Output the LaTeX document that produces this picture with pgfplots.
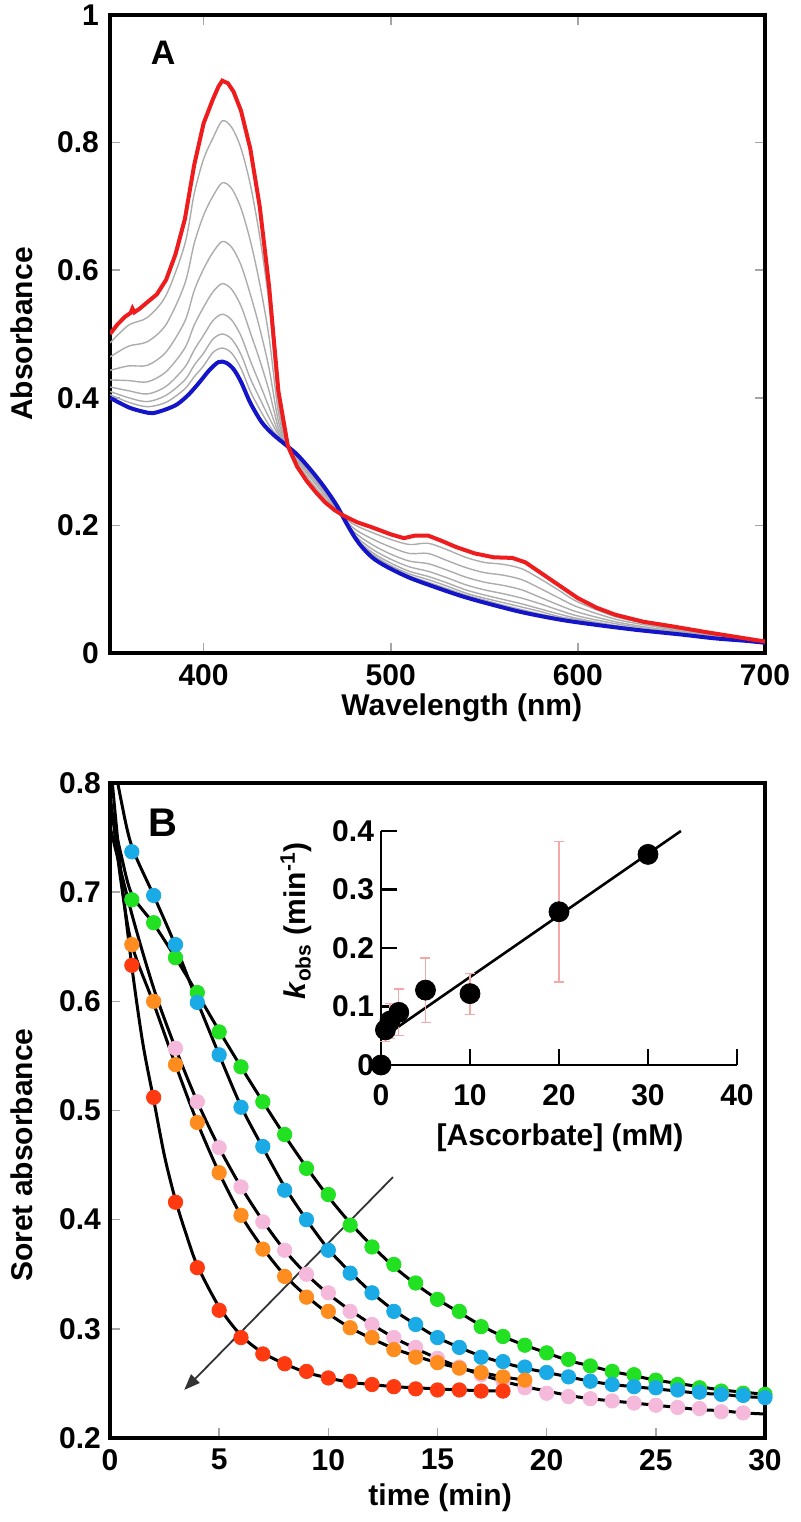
\documentclass[border=0pt]{standalone}
\usepackage{fontspec}
\setmainfont{Liberation Sans}
\usepackage{pgfplots}
\pgfplotsset{compat=1.18}
\usepackage{pgfplotstable}
\usetikzlibrary{arrows.meta}

\definecolor{cred}{HTML}{EE1C1C}
\definecolor{cblue}{HTML}{1414C8}
\definecolor{pgreen}{HTML}{22E022}
\definecolor{pcyan}{HTML}{1AAAE6}
\definecolor{ppink}{HTML}{F5BADB}
\definecolor{porange}{HTML}{FF8C1E}
\definecolor{pred}{HTML}{FF3A10}
\definecolor{errpink}{HTML}{F4A8A8}

\newcommand{\lf}{\fontsize{15}{18}\selectfont\bfseries}

\pgfplotstableread{
wl g1 g2 g3 g4 g5 g6 g7
350 .486 .464 .443 .428 .417 .410 .405
360 .514 .481 .450 .427 .411 .400 .393
370 .526 .488 .451 .425 .406 .394 .386
380 .561 .515 .472 .441 .418 .404 .393
390 .641 .579 .520 .478 .448 .428 .414
395 .720 .642 .568 .514 .475 .451 .433
400 .774 .686 .602 .542 .498 .470 .450
405 .807 .716 .628 .566 .521 .492 .471
410 .834 .737 .645 .579 .531 .500 .478
415 .824 .728 .636 .570 .522 .492 .470
420 .791 .697 .608 .544 .497 .468 .446
425 .734 .646 .562 .502 .458 .430 .410
430 .653 .579 .509 .459 .422 .399 .382
435 .547 .495 .446 .411 .385 .369 .357
440 .391 .377 .363 .353 .346 .342 .338
445 .321 .322 .323 .324 .324 .325 .325
450 .293 .297 .301 .304 .307 .308 .309
460 .254 .259 .264 .268 .271 .273 .274
470 .224 .227 .229 .231 .233 .234 .234
480 .202 .196 .191 .187 .184 .183 .181
490 .189 .179 .170 .163 .158 .155 .152
500 .178 .166 .155 .147 .141 .137 .135
510 .170 .156 .144 .135 .128 .124 .121
520 .172 .156 .140 .128 .120 .115 .111
530 .162 .145 .130 .118 .110 .105 .101
540 .150 .134 .119 .107 .099 .094 .091
550 .142 .126 .111 .099 .091 .086 .083
560 .139 .122 .106 .093 .084 .079 .075
570 .132 .115 .099 .086 .077 .072 .068
580 .116 .101 .087 .077 .069 .065 .061
590 .098 .086 .075 .067 .061 .057 .055
600 .080 .072 .064 .058 .054 .052 .050
620 .057 .053 .049 .046 .043 .042 .041
640 .044 .042 .039 .037 .036 .035 .035
660 .034 .032 .031 .030 .029 .029 .028
680 .025 .025 .024 .023 .023 .022 .022
700 .018 .017 .017 .017 .016 .016 .016
}\grays

\pgfplotstableread{
wl a
350 .500
354 .515
358 .527
361 .533
362 .540
363 .534
366 .540
370 .550
375 .562
380 .585
385 .625
390 .680
395 .765
400 .830
405 .868
408 .888
410 .897
413 .893
416 .880
420 .850
425 .790
430 .700
435 .575
440 .410
445 .325
450 .292
455 .270
460 .252
465 .236
470 .224
475 .215
482 .205
490 .197
500 .186
507 .180
513 .184
520 .184
527 .176
535 .166
545 .156
555 .150
565 .149
572 .142
580 .126
590 .106
600 .086
610 .071
620 .060
635 .049
650 .042
670 .032
685 .025
700 .018
}\redspec

\pgfplotstableread{
wl a
350 .400
360 .385
368 .378
373 .376
380 .382
386 .390
392 .405
398 .425
403 .443
408 .456
412 .455
416 .445
420 .425
425 .392
431 .362
437 .343
444 .326
450 .311
457 .288
464 .262
471 .232
477 .200
483 .172
490 .150
498 .135
510 .118
523 .104
537 .090
550 .079
570 .064
591 .052
610 .044
632 .036
655 .029
673 .023
690 .019
700 .016
}\bluespec

% panel B data points
\pgfplotstableread{
t y
1 .693
2 .672
3 .640
4 .608
5 .572
6 .540
7 .508
8 .478
9 .447
10 .423
11 .395
12 .375
13 .359
14 .342
15 .327
16 .316
17 .302
18 .293
19 .285
20 .278
21 .272
22 .266
23 .261
24 .258
25 .253
26 .249
27 .246
28 .243
29 .241
30 .240
}\greenpts

\pgfplotstableread{
t y
1 .737
2 .697
3 .652
4 .599
5 .551
6 .503
7 .467
8 .427
9 .400
10 .372
11 .351
12 .333
13 .316
14 .304
15 .292
16 .283
17 .274
18 .270
19 .265
20 .260
21 .256
22 .252
23 .249
24 .247
25 .246
26 .244
27 .242
28 .240
29 .239
30 .237
}\cyanpts

\pgfplotstableread{
t y
3 .557
4 .508
5 .466
6 .430
7 .398
8 .372
9 .350
10 .333
11 .316
12 .304
13 .292
14 .283
15 .273
16 .265
17 .258
18 .252
19 .246
20 .241
21 .238
22 .236
23 .234
24 .232
25 .230
26 .228
27 .227
28 .224
29 .223
}\pinkpts

\pgfplotstableread{
t y
1 .652
2 .600
3 .542
4 .489
5 .443
6 .404
7 .373
8 .348
9 .329
10 .316
11 .301
12 .292
13 .281
14 .274
15 .269
16 .264
17 .260
18 .256
19 .253
}\orangepts

\pgfplotstableread{
t y
1 .633
2 .512
3 .416
4 .356
5 .317
6 .292
7 .277
8 .268
9 .261
10 .255
11 .252
12 .249
13 .247
14 .245
15 .244
16 .244
17 .243
18 .243
}\redpts

% fitted curves
\pgfplotstableread{
t y
0 .78
0.5 .735
1 .698
2 .671
3 .640
4 .607
5 .573
6 .540
7 .508
8 .477
9 .448
10 .421
11 .397
12 .376
13 .357
14 .341
15 .327
16 .315
17 .303
18 .293
19 .285
20 .278
21 .271
22 .266
23 .261
24 .257
25 .253
26 .250
27 .247
28 .244
29 .242
30 .240
}\greenfit

\pgfplotstableread{
t y
0 .84
0.5 .785
1 .742
2 .697
3 .651
4 .600
5 .551
6 .504
7 .466
8 .430
9 .400
10 .373
11 .352
12 .333
13 .317
14 .304
15 .292
16 .283
17 .275
18 .269
19 .264
20 .260
21 .256
22 .252
23 .249
24 .247
25 .245
26 .243
27 .241
28 .240
29 .238
30 .237
}\cyanfit

\pgfplotstableread{
t y
0 .76
1 .680
2 .612
3 .557
4 .508
5 .466
6 .430
7 .399
8 .372
9 .350
10 .332
11 .317
12 .304
13 .292
14 .282
15 .273
16 .265
17 .258
18 .252
19 .247
20 .243
21 .239
22 .236
23 .234
24 .232
25 .230
26 .228
27 .226
28 .225
29 .223
30 .222
}\pinkfit

\pgfplotstableread{
t y
0 .79
0.5 .71
1 .652
2 .598
3 .542
4 .489
5 .443
6 .404
7 .374
8 .349
9 .330
10 .314
11 .301
12 .291
13 .282
14 .275
15 .269
16 .264
17 .260
18 .256
19 .253
}\orangefit

\pgfplotstableread{
t y
0 .823
0.5 .718
1 .632
1.5 .562
2 .510
2.5 .458
3 .418
3.5 .386
4 .358
5 .320
6 .294
7 .278
8 .268
9 .260
10 .255
11 .251
12 .249
13 .247
14 .246
16 .244
18 .243
}\redfit

\pgfplotstableread{
x y e
0 0 0
0.5 .060 .020
1 .075 .030
2 .090 .040
5 .128 .055
10 .122 .035
20 .262 .120
30 .360 .013
}\kobs

\pgfplotsset{
  mainax/.style={
    scale only axis,
    axis line style={line width=2pt},
    tick align=inside,
    major tick length=5pt,
    tick style={gray!70, line width=0.8pt},
    ticklabel style={font=\lf},
    label style={font=\lf},
    /pgf/number format/assume math mode=true,
  },
  dots/.style={only marks, mark=*, mark size=3.6pt, color=#1, mark options={draw=#1, fill=#1}},
}

\begin{document}
\begin{tikzpicture}
\useasboundingbox (0,0) rectangle (400pt,761pt);

% ---------- Panel A ----------
\begin{axis}[mainax,
  at={(55pt,434.5pt)}, anchor=south west,
  width=327.5pt, height=319pt,
  xmin=350, xmax=700, ymin=0, ymax=1,
  xtick={400,500,600,700},
  ytick={0,0.2,0.4,0.6,0.8,1},
  xticklabel style={yshift=-2pt},
  yticklabel style={xshift=-2pt},
  xlabel={Wavelength (nm)},
  ylabel={Absorbance},
  xlabel style={at={(axis description cs:0.537,-0.086)}, anchor=center},
  ylabel style={at={(axis description cs:-0.134,0.5)}, anchor=center},
]
\foreach \c in {g1,g2,g3,g4,g5,g6,g7}{
  \addplot[gray!65, line width=0.7pt, smooth] table[x=wl, y=\c] {\grays};
}
\addplot[cblue, line width=2pt, smooth] table[x=wl, y=a] {\bluespec};
\addplot[cred, line width=2pt] table[x=wl, y=a] {\redspec};
\node[font=\fontsize{17}{19}\selectfont\bfseries] at (rel axis cs:0.081,0.94) {A};
\end{axis}

% ---------- Panel B ----------
\begin{axis}[mainax,
  at={(55pt,42pt)}, anchor=south west,
  width=327.5pt, height=327.5pt,
  xmin=0, xmax=30, ymin=0.2, ymax=0.8,
  xtick={0,5,10,15,20,25,30},
  ytick={0.2,0.3,0.4,0.5,0.6,0.7,0.8},
  xtick pos=bottom, ytick pos=left,
  xticklabel style={yshift=-2pt},
  yticklabel style={xshift=-1pt},
  xlabel={time (min)},
  ylabel={Soret absorbance},
  xlabel style={at={(axis description cs:0.504,-0.0916)}, anchor=center},
  ylabel style={at={(axis description cs:-0.134,0.432)}, anchor=center},
]
\addplot[black, line width=1.5pt, smooth] table[x=t,y=y] {\greenfit};
\addplot[black, line width=1.5pt, smooth] table[x=t,y=y] {\cyanfit};
\addplot[black, line width=1.5pt, smooth] table[x=t,y=y] {\pinkfit};
\addplot[black, line width=1.5pt, smooth] table[x=t,y=y] {\orangefit};
\addplot[black, line width=1.5pt, smooth] table[x=t,y=y] {\redfit};
\addplot[dots=pgreen] table[x=t,y=y] {\greenpts};
\addplot[dots=pcyan] table[x=t,y=y] {\cyanpts};
\addplot[dots=ppink] table[x=t,y=y] {\pinkpts};
\addplot[dots=porange] table[x=t,y=y] {\orangepts};
\addplot[dots=pred] table[x=t,y=y] {\redpts};
\draw[black!80, line width=0.9pt, -{Triangle[length=8pt,width=6pt]}] (axis cs:12.96,0.439) -- (axis cs:3.4,0.244);
\node[font=\fontsize{20}{22}\selectfont\bfseries] at (rel axis cs:0.081,0.939) {B};
\end{axis}

% ---------- Inset ----------
\begin{axis}[
  scale only axis,
  at={(190.5pt,228.5pt)}, anchor=south west,
  width=178pt, height=117pt,
  xmin=0, xmax=40, ymin=0, ymax=0.4,
  axis x line=bottom, axis y line=left,
  axis line style={line width=1.3pt, -},
  tick align=inside,
  major tick length=8pt,
  tick style={black, line width=1.3pt},
  xtick={0,10,20,30,40},
  ytick={0,0.1,0.2,0.3,0.4},
  ticklabel style={font=\lf},
  label style={font=\lf},
  /pgf/number format/assume math mode=true,
  xticklabel style={yshift=-6pt},
  clip=false,
  xlabel={[Ascorbate] (mM)},
  ylabel={\textit{k}\textsubscript{obs} (min\textsuperscript{-1})},
  xlabel style={at={(axis description cs:0.503,-0.312)}, anchor=center},
  ylabel style={at={(axis description cs:-0.239,0.615)}, anchor=center},
]
\addplot[black, line width=1.3pt] coordinates {(0,0.045) (33.7,0.40)};
\addplot[only marks, mark=*, mark size=5pt, black,
  error bars/.cd, y dir=both, y explicit,
  error bar style={errpink, line width=0.6pt},
  error mark=|, error mark options={errpink, mark size=2.5pt, line width=0.6pt}]
  table[x=x, y=y, y error=e] {\kobs};
\end{axis}
\end{tikzpicture}
\end{document}
